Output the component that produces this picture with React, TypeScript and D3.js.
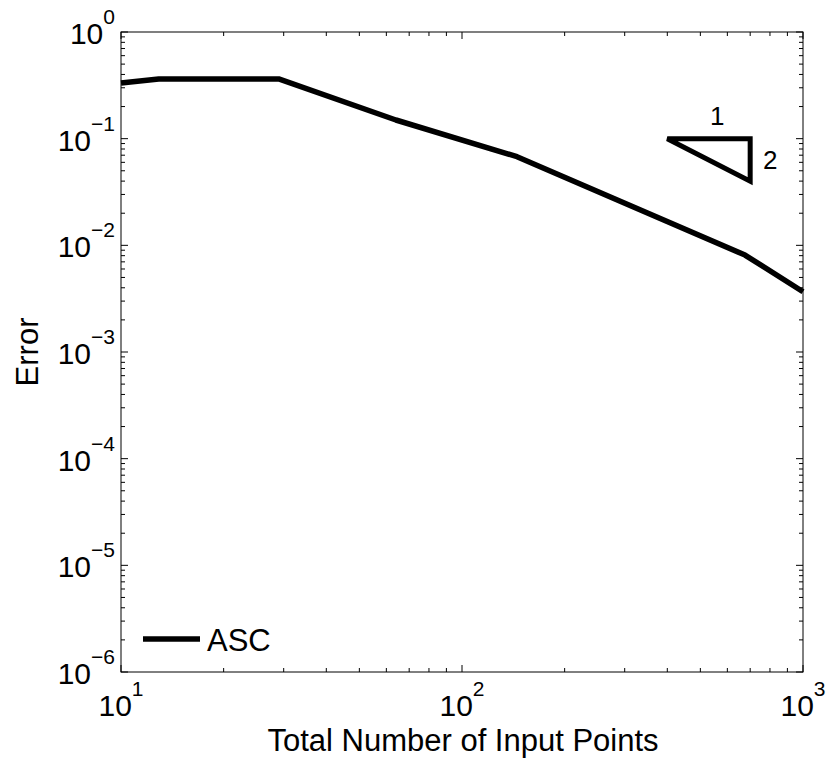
import React from "react";
import * as d3 from "d3";

const xValues = [10, 12.9, 29, 64, 145, 676, 1000];
const yValues = [0.332, 0.363, 0.363, 0.1496, 0.0678, 0.0081, 0.00367];
const seriesName = "ASC";
const xTickExps = [1, 2, 3];
const yTickExps = [-6, -5, -4, -3, -2, -1, 0];
const slopeTriangle = [
  { x: 400, y: 0.1 },
  { x: 700, y: 0.1 },
  { x: 700, y: 0.04 },
];
const slopeLabels = ["1", "2"];
const xLabel = "Total Number of Input Points";
const yLabel = "Error";

const W = 829, H = 760;
const L = 121, R = 803, T = 32, B = 672;
const FONT = "'Liberation Sans', Arial, Helvetica, sans-serif";

export default function App() {
  const x = d3.scaleLog().domain([10, 1000]).range([L, R]);
  const y = d3.scaleLog().domain([1e-6, 1]).range([B, T]);
  const line = d3.line<number>().x((_, i) => x(xValues[i])).y((d) => y(d));

  const xMinor: number[] = [];
  for (let e = 1; e < 3; e++) for (let m = 2; m <= 9; m++) xMinor.push(m * Math.pow(10, e));
  const yMinor: number[] = [];
  for (let e = -6; e < 0; e++) for (let m = 2; m <= 9; m++) yMinor.push(m * Math.pow(10, e));

  const MAJ = 7, MIN = 4;
  const tri = d3.line<{ x: number; y: number }>().x((d) => x(d.x)).y((d) => y(d.y));

  return (
    <svg width={W} height={H} style={{ position: "absolute", left: 0, top: 0, background: "#fff" }} fontFamily={FONT}>
      <rect x={0} y={0} width={W} height={H} fill="#fff" />
      <g stroke="#000" strokeWidth={1}>
        {xTickExps.map((e) => {
          const px = x(Math.pow(10, e));
          return (
            <g key={"xm" + e}>
              <line x1={px} x2={px} y1={B} y2={B - MAJ} />
              <line x1={px} x2={px} y1={T} y2={T + MAJ} />
            </g>
          );
        })}
        {xMinor.map((v) => (
          <g key={"xn" + v}>
            <line x1={x(v)} x2={x(v)} y1={B} y2={B - MIN} />
            <line x1={x(v)} x2={x(v)} y1={T} y2={T + MIN} />
          </g>
        ))}
        {yTickExps.map((e) => {
          const py = y(Math.pow(10, e));
          return (
            <g key={"ym" + e}>
              <line x1={L} x2={L + MAJ} y1={py} y2={py} />
              <line x1={R} x2={R - MAJ} y1={py} y2={py} />
            </g>
          );
        })}
        {yMinor.map((v) => (
          <g key={"yn" + v}>
            <line x1={L} x2={L + MIN} y1={y(v)} y2={y(v)} />
            <line x1={R} x2={R - MIN} y1={y(v)} y2={y(v)} />
          </g>
        ))}
      </g>
      <rect x={L} y={T} width={R - L} height={B - T} fill="none" stroke="#000" strokeWidth={1} />

      <path d={line(yValues) || ""} fill="none" stroke="#000" strokeWidth={5.5} strokeLinejoin="round" />

      <path d={(tri(slopeTriangle) || "") + "Z"} fill="none" stroke="#000" strokeWidth={5} strokeLinejoin="miter" />
      <text x={x(slopeTriangle[1].x) - 33} y={y(slopeTriangle[0].y) - 14} fontSize={26} textAnchor="middle">{slopeLabels[0]}</text>
      <text x={x(slopeTriangle[1].x) + 20} y={y(slopeTriangle[2].y) - 12} fontSize={26} textAnchor="middle">{slopeLabels[1]}</text>

      {xTickExps.map((e) => (
        <text key={"xl" + e} x={x(Math.pow(10, e))} y={B + 44} fontSize={30} textAnchor="middle">
          10<tspan fontSize={21} dy={-20}>{String(e).replace("-", "\u2212")}</tspan>
        </text>
      ))}
      {yTickExps.map((e) => (
        <text key={"yl" + e} x={L - 6} y={y(Math.pow(10, e)) + 12} fontSize={30} textAnchor="end">
          10<tspan fontSize={21} dy={-20}>{String(e).replace("-", "\u2212")}</tspan>
        </text>
      ))}

      <text x={463} y={751} fontSize={31} textAnchor="middle">{xLabel}</text>
      <text transform={`translate(38,${(T + B) / 2}) rotate(-90)`} fontSize={31} textAnchor="middle">{yLabel}</text>

      <line x1={143} x2={200} y1={639} y2={639} stroke="#000" strokeWidth={5.5} />
      <text x={207} y={651} fontSize={31}>{seriesName}</text>
    </svg>
  );
}
